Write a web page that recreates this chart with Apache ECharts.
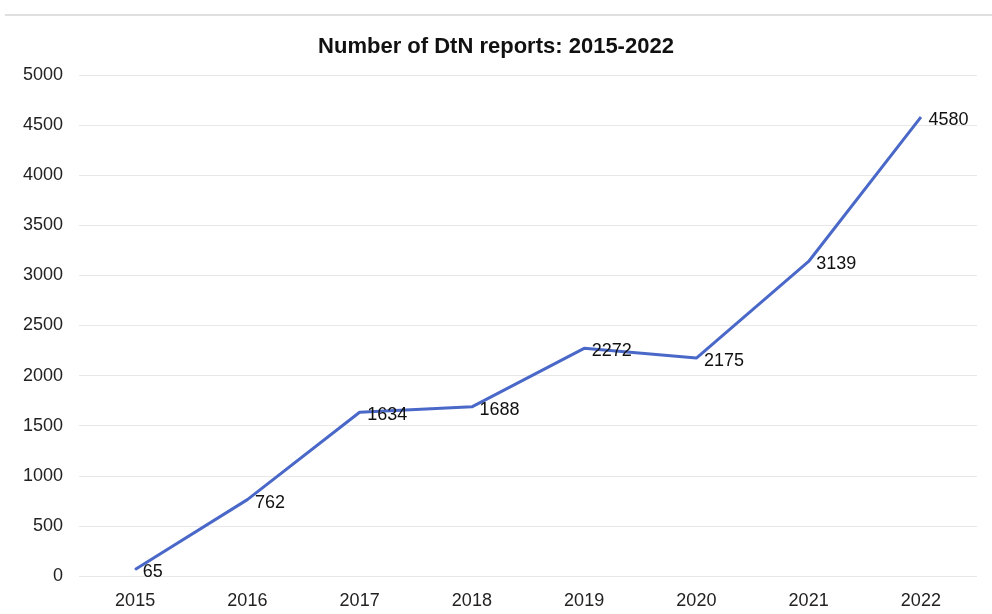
<!DOCTYPE html>
<html><head><meta charset="utf-8">
<script src="https://cdn.jsdelivr.net/npm/echarts@6/dist/echarts.min.js"></script>
<style>html,body{margin:0;padding:0;background:#fff}#c{width:992px;height:614px}</style>
</head><body><div id="c"></div>
<script>
var years = ['2015','2016','2017','2018','2019','2020','2021','2022'];
var reports = [65, 762, 1634, 1688, 2272, 2175, 3139, 4580];
var chart = echarts.init(document.getElementById('c'));
chart.setOption({
  animation: false,
  backgroundColor: '#fff',
  title: {
    text: 'Number of DtN reports: 2015-2022',
    left: 'center', top: 31,
    textStyle: { fontFamily: 'Liberation Sans', fontSize: 22, fontWeight: 'bold', color: '#111' }
  },
  graphic: [{
    type: 'line', shape: { x1: 5, y1: 15, x2: 992, y2: 15 },
    style: { stroke: '#d4d4d4', lineWidth: 1.5 }
  }],
  grid: { left: 79, right: 15, top: 75, bottom: 38 },
  xAxis: {
    type: 'category', data: years, boundaryGap: true,
    axisLine: { show: false }, axisTick: { show: false },
    axisLabel: { fontFamily: 'Liberation Sans', fontSize: 18, color: '#222', margin: 16 }
  },
  yAxis: {
    type: 'value', min: 0, max: 5000, interval: 500,
    axisLine: { show: false }, axisTick: { show: false },
    axisLabel: { fontFamily: 'Liberation Sans', fontSize: 18, color: '#222', margin: 16,
      formatter: function (v) { return String(v); } },
    splitLine: { lineStyle: { color: '#e8e8e8', width: 1 } }
  },
  series: [{
    type: 'line', data: reports, symbol: 'circle', symbolSize: 1, showSymbol: true,
    itemStyle: { color: '#4a68c8' },
    lineStyle: { color: '#4a68c8', width: 3 },
    label: { show: true, position: 'right', distance: 7, offset: [0, 3], fontFamily: 'Liberation Sans', fontSize: 18, color: '#111' }
  }]
});
</script></body></html>
